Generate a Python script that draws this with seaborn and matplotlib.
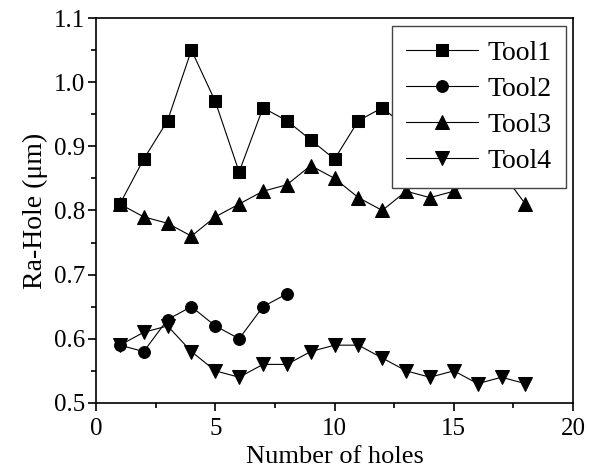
import matplotlib
matplotlib.use('Agg')
import matplotlib.pyplot as plt
from matplotlib.ticker import MultipleLocator, FormatStrFormatter
import seaborn as sns
import pandas as pd

# data
holes = list(range(1, 19))
tool1 = [0.81, 0.88, 0.94, 1.05, 0.97, 0.86, 0.96, 0.94, 0.91, 0.88, 0.94, 0.96,
         0.93, 0.92, 0.90, 0.89, 0.88, 0.87]
tool2_holes = list(range(1, 9))
tool2 = [0.59, 0.58, 0.63, 0.65, 0.62, 0.60, 0.65, 0.67]
tool3 = [0.81, 0.79, 0.78, 0.76, 0.79, 0.81, 0.83, 0.84, 0.87, 0.85, 0.82, 0.80,
         0.83, 0.82, 0.83, 0.85, 0.86, 0.81]
tool4 = [0.59, 0.61, 0.62, 0.58, 0.55, 0.54, 0.56, 0.56, 0.58, 0.59, 0.59, 0.57,
         0.55, 0.54, 0.55, 0.53, 0.54, 0.53]

df = pd.concat([
    pd.DataFrame({'holes': holes, 'ra': tool1, 'tool': 'Tool1'}),
    pd.DataFrame({'holes': tool2_holes, 'ra': tool2, 'tool': 'Tool2'}),
    pd.DataFrame({'holes': holes, 'ra': tool3, 'tool': 'Tool3'}),
    pd.DataFrame({'holes': holes, 'ra': tool4, 'tool': 'Tool4'}),
])

sns.set_style('ticks')
plt.rcParams['font.family'] = ['Liberation Serif', 'DejaVu Serif']
plt.rcParams['text.color'] = 'black'
plt.rcParams['axes.labelcolor'] = 'black'

fig = plt.figure(figsize=(5.89, 4.74), dpi=100)
ax = fig.add_axes([0.163, 0.150, 0.810, 0.812])

markers = {'Tool1': 's', 'Tool2': 'o', 'Tool3': '^', 'Tool4': 'v'}
sizes = {'Tool1': 8, 'Tool2': 8.5, 'Tool3': 9.5, 'Tool4': 9.5}
for name, sub in df.groupby('tool'):
    sns.lineplot(data=sub, x='holes', y='ra', ax=ax, color='black', lw=0.8,
                 marker=markers[name], markersize=sizes[name],
                 markeredgecolor='black', markerfacecolor='black',
                 label=name, zorder=2)

ax.set_xlim(0, 20)
ax.set_ylim(0.5, 1.1)
ax.xaxis.set_major_locator(MultipleLocator(5))
ax.xaxis.set_minor_locator(MultipleLocator(2.5))
ax.yaxis.set_major_locator(MultipleLocator(0.1))
ax.yaxis.set_minor_locator(MultipleLocator(0.05))
ax.yaxis.set_major_formatter(FormatStrFormatter('%.1f'))
ax.tick_params(which='major', direction='out', length=6, width=1.2,
               labelsize=18, colors='black', pad=2, top=False, right=False)
ax.tick_params(which='minor', direction='out', length=3.5, width=1.2,
               colors='black', top=False, right=False)
ax.tick_params(axis='x', which='major', pad=5)
for sp in ax.spines.values():
    sp.set_linewidth(1.2)
    sp.set_color('black')

ax.set_xlabel('Number of holes', fontsize=19, labelpad=4)
ax.set_ylabel('Ra-Hole (μm)', fontsize=20, labelpad=4)

leg = ax.legend(loc='upper right', bbox_to_anchor=(0.985, 0.978), fontsize=20,
                frameon=True, fancybox=False, framealpha=1, edgecolor='#444444',
                handlelength=2.6, handletextpad=0.35, borderpad=0.5,
                labelspacing=0.38, borderaxespad=0)
leg.get_frame().set_linewidth(1.0)
for t in leg.get_texts():
    t.set_color('black')
leg.set_zorder(5)

fig.savefig('out.png', dpi=100)
